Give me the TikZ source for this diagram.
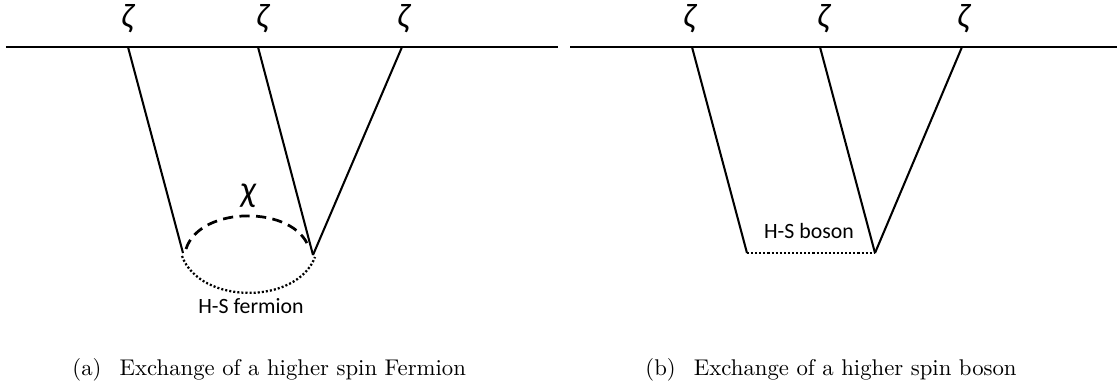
\documentclass[tikz,border=0pt]{standalone}
\usepackage{fontspec}
\newfontfamily\carl{Carlito}
\begin{document}
\begin{tikzpicture}[x=0.44pt,y=-0.44pt,
  topline/.style={line width=1.3pt},
  leg/.style={line width=0.9pt},
  dashline/.style={line width=1.2pt,dash pattern=on 4.5pt off 2.8pt},
  dotline/.style={line width=1pt,dash pattern=on 0.9pt off 0.9pt},
  greek/.style={inner sep=0pt,font=\carl\itshape\fontsize{15}{17}\selectfont},
  lbl/.style={inner sep=0pt,font=\carl\fontsize{9.6}{11}\selectfont},
  captxt/.style={inner sep=0pt,anchor=base west,font=\fontsize{10}{12}\selectfont}]
\useasboundingbox (0,0) rectangle (1117,385);
% ---------- panel (a) ----------
\coordinate (La) at (6,47);
\coordinate (Ra) at (558,47);
\draw[topline] (La) -- (Ra);
\coordinate (a1) at (128,47);
\coordinate (a2) at (258,47);
\coordinate (a3) at (402,47);
\coordinate (aL) at (183,253);
\coordinate (aV) at (313,255);
\node[greek] (za1) at (127,19) {ζ};
\node[greek] (za2) at (262,19) {ζ};
\node[greek] (za3) at (403,19) {ζ};
\draw[leg] (a1) -- (aL);
\draw[leg] (a2) -- (aV);
\draw[leg] (a3) -- (aV);
\coordinate (dS) at (186,249);
\coordinate (dE) at (309,248);
\draw[dashline] (dS) .. controls (200,205) and (295,205) .. (dE);
\node[greek,font=\carl\itshape\fontsize{16}{18}\selectfont] (chi) at (248,196) {χ};
\coordinate (oS) at (182,256);
\coordinate (oE) at (315,257);
\draw[dotline] (oS) .. controls (200,305) and (297,305) .. (oE);
\node[lbl,anchor=base] (hsf) at (251,313) {H-S fermion};
\node[captxt] (capa) at (72,375) {(a)\hspace{0.8em}Exchange of a higher spin Fermion};
% ---------- panel (b) ----------
\coordinate (Lb) at (570,47);
\coordinate (Rb) at (1117,47);
\draw[topline] (Lb) -- (Rb);
\coordinate (b1) at (692,47);
\coordinate (b2) at (820,47);
\coordinate (b3) at (962,47);
\coordinate (bL) at (747,253);
\coordinate (bV) at (875,253);
\node[greek] (zb1) at (689,19) {ζ};
\node[greek] (zb2) at (823,19) {ζ};
\node[greek] (zb3) at (963,19) {ζ};
\draw[leg] (b1) -- (bL);
\draw[leg] (b2) -- (bV);
\draw[leg] (b3) -- (bV);
\draw[dotline] (bL) -- (bV);
\node[lbl,anchor=base] (hsb) at (809,238) {H-S boson};
\node[captxt] (capb) at (645,375) {(b)\hspace{0.8em}Exchange of a higher spin boson};
\end{tikzpicture}
\end{document}
